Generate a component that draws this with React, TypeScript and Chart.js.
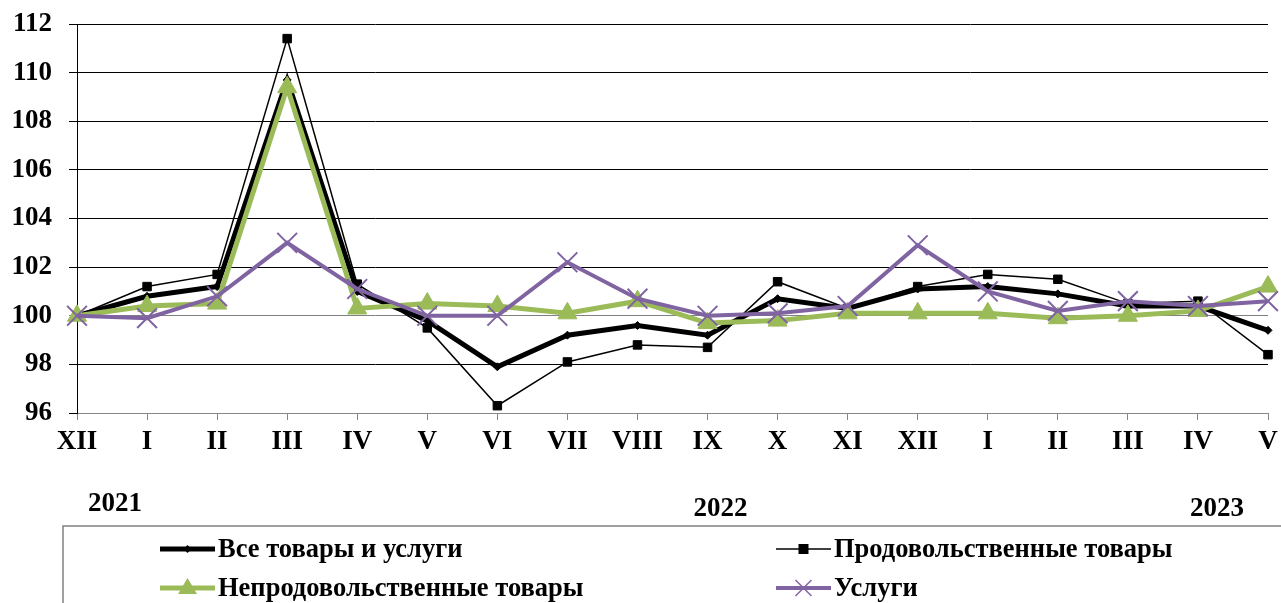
import React, { useEffect, useRef } from "react";
import { Chart, registerables } from "chart.js";

Chart.register(...registerables);

const categories = ["XII", "I", "II", "III", "IV", "V", "VI", "VII", "VIII", "IX", "X", "XI", "XII", "I", "II", "III", "IV", "V"];
const allGoods = [100.0, 100.8, 101.2, 109.7, 101.0, 99.8, 97.9, 99.2, 99.6, 99.2, 100.7, 100.3, 101.1, 101.2, 100.9, 100.4, 100.4, 99.4];
const food = [100.0, 101.2, 101.7, 111.4, 101.3, 99.5, 96.3, 98.1, 98.8, 98.7, 101.4, 100.3, 101.2, 101.7, 101.5, 100.5, 100.6, 98.4];
const nonFood = [100.0, 100.4, 100.5, 109.4, 100.3, 100.5, 100.4, 100.1, 100.6, 99.7, 99.8, 100.1, 100.1, 100.1, 99.9, 100.0, 100.2, 101.2];
const services = [100.0, 99.9, 100.8, 103.0, 101.1, 100.0, 100.0, 102.2, 100.7, 100.0, 100.1, 100.4, 102.9, 101.0, 100.2, 100.6, 100.4, 100.6];
const seriesNames = ["Все товары и услуги", "Продовольственные товары", "Непродовольственные товары", "Услуги"];
const yearLabels = ["2021", "2022", "2023"];
const yearIndex = [0, 9, 17];
const yMin = 96;
const yMax = 112;
const yStep = 2;

const FONT = "'Liberation Serif', 'Times New Roman', serif";

const extrasPlugin = {
  id: "extras",
  afterDraw(chart: any) {
    const ctx = chart.ctx;
    const xs = chart.scales.x;
    ctx.save();
    // year labels
    const yearDx = [38, 13, -51];
    const yearY = [504, 509, 509];
    ctx.fillStyle = "#000";
    ctx.font = `bold 27px ${FONT}`;
    ctx.textAlign = "center";
    ctx.textBaseline = "middle";
    yearLabels.forEach((t, i) => {
      ctx.fillText(t, xs.getPixelForValue(yearIndex[i]) + yearDx[i], yearY[i]);
    });
    // legend box
    ctx.strokeStyle = "#808080";
    ctx.lineWidth = 1.5;
    ctx.strokeRect(63, 526, 1300, 100);
    const pos = [
      [160, 549],
      [776, 549],
      [160, 588],
      [776, 588],
    ];
    [0, 1, 2, 3].forEach((di) => {
      const ds = chart.data.datasets[di];
      const [sx, sy] = pos[di];
      const w = 55;
      ctx.strokeStyle = ds.borderColor;
      ctx.lineWidth = ds.borderWidth;
      ctx.beginPath();
      ctx.moveTo(sx, sy);
      ctx.lineTo(sx + w, sy);
      ctx.stroke();
      const cx = sx + w / 2;
      ctx.fillStyle = ds.pointBackgroundColor;
      ctx.strokeStyle = ds.pointBorderColor;
      ctx.lineWidth = 1.5;
      if (ds.pointStyle === "rect") {
        const r = 5;
        ctx.fillRect(cx - r, sy - r, 2 * r, 2 * r);
      } else if (ds.pointStyle === "rectRot") {
        const r = 4;
        ctx.beginPath();
        ctx.moveTo(cx, sy - r);
        ctx.lineTo(cx + r, sy);
        ctx.lineTo(cx, sy + r);
        ctx.lineTo(cx - r, sy);
        ctx.closePath();
        ctx.fill();
      } else if (ds.pointStyle === "triangle") {
        const r = 10;
        ctx.beginPath();
        ctx.moveTo(cx, sy - r);
        ctx.lineTo(cx + r * 0.95, sy + r * 0.6);
        ctx.lineTo(cx - r * 0.95, sy + r * 0.6);
        ctx.closePath();
        ctx.fill();
      } else if (ds.pointStyle === "crossRot") {
        const d = 8;
        ctx.beginPath();
        ctx.moveTo(cx - d, sy - d);
        ctx.lineTo(cx + d, sy + d);
        ctx.moveTo(cx + d, sy - d);
        ctx.lineTo(cx - d, sy + d);
        ctx.stroke();
      }
      ctx.fillStyle = "#000";
      ctx.font = `bold 26.5px ${FONT}`;
      ctx.textAlign = "left";
      ctx.textBaseline = "middle";
      ctx.fillText(ds.label, sx + w + 3, sy + 1);
    });
    ctx.restore();
  },
};

export default function App() {
  const ref = useRef<HTMLCanvasElement | null>(null);
  useEffect(() => {
    if (!ref.current) return;
    const chart = new Chart(ref.current, {
      type: "line",
      data: {
        labels: categories,
        datasets: [
          {
            label: seriesNames[0],
            data: allGoods,
            borderColor: "#000000",
            backgroundColor: "#000000",
            borderWidth: 5,
            pointStyle: "rectRot",
            pointRadius: 4,
            pointBackgroundColor: "#000000",
            pointBorderColor: "#000000",
            pointBorderWidth: 1,
            clip: false,
            order: 4,
          },
          {
            label: seriesNames[1],
            data: food,
            borderColor: "#000000",
            backgroundColor: "#000000",
            borderWidth: 1.5,
            pointStyle: "rect",
            pointRadius: 6,
            pointBackgroundColor: "#000000",
            pointBorderColor: "#000000",
            pointBorderWidth: 1,
            clip: false,
            order: 3,
          },
          {
            label: seriesNames[2],
            data: nonFood,
            borderColor: "#9BBB59",
            backgroundColor: "#9BBB59",
            borderWidth: 5,
            pointStyle: "triangle",
            pointRadius: 11,
            pointBackgroundColor: "#9BBB59",
            pointBorderColor: "#9BBB59",
            pointBorderWidth: 1,
            clip: false,
            order: 2,
          },
          {
            label: seriesNames[3],
            data: services,
            borderColor: "#8064A2",
            backgroundColor: "#8064A2",
            borderWidth: 4,
            pointStyle: "crossRot",
            pointRadius: 14,
            pointBackgroundColor: "#8064A2",
            pointBorderColor: "#8064A2",
            pointBorderWidth: 2,
            clip: false,
            order: 1,
          },
        ],
      },
      options: {
        animation: false,
        responsive: false,
        events: [],
        layout: { autoPadding: false, padding: { top: 24, right: 13, left: 0, bottom: 0 } },
        plugins: {
          legend: { display: false },
          tooltip: { enabled: false },
        },
        elements: { line: { tension: 0 } },
        scales: {
          x: {
            type: "category",
            offset: false,
            grid: {
              drawOnChartArea: false,
              drawTicks: true,
              tickLength: 7,
              tickColor: "#868686",
              tickWidth: 1,
            },
            border: { color: "#868686", width: 1 },
            ticks: {
              autoSkip: false,
              maxRotation: 0,
              padding: 6,
              color: "#000",
              font: { family: FONT, size: 27, weight: "bold" },
            },
            afterFit(scale: any) {
              scale.height = 190;
              scale.paddingLeft = 0;
              scale.paddingRight = 0;
            },
          },
          y: {
            min: yMin,
            max: yMax,
            grid: {
              color: (c: any) => (c.tick && c.tick.value === 100 ? "#808080" : "#000000"),
              lineWidth: 1,
              tickLength: 8,
            },
            border: { color: "#000", width: 1 },
            ticks: {
              stepSize: yStep,
              padding: 17,
              color: "#000",
              font: { family: FONT, size: 27, weight: "bold" },
            },
            afterFit(scale: any) {
              scale.width = 77;
              scale.paddingTop = 0;
              scale.paddingBottom = 0;
            },
          },
        },
      },
      plugins: [extrasPlugin],
    });
    return () => chart.destroy();
  }, []);
  return (
    <div style={{ position: "absolute", left: 0, top: 0, width: 1281, height: 603, background: "#fff" }}>
      <canvas ref={ref} width={1281} height={603} style={{ display: "block" }} />
    </div>
  );
}
